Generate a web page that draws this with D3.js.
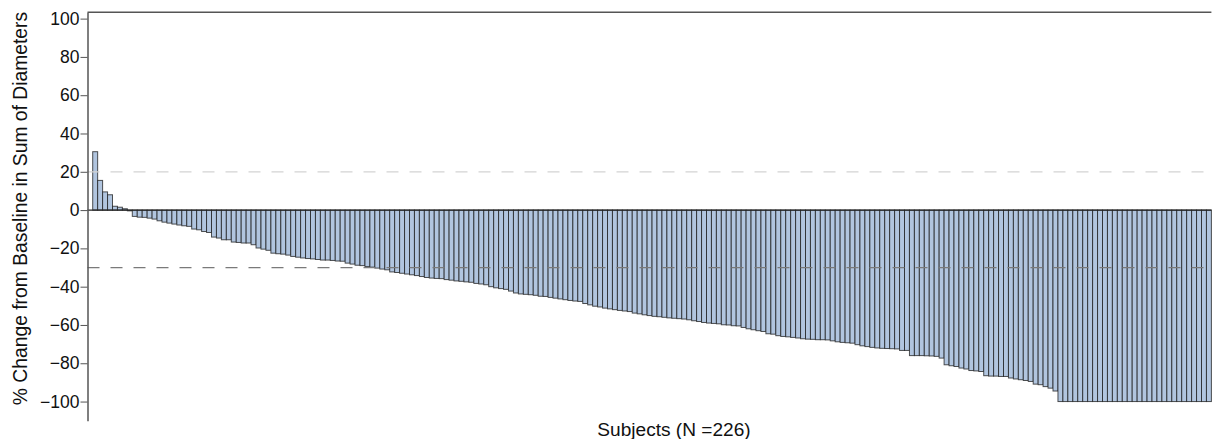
<!DOCTYPE html>
<html>
<head>
<meta charset="utf-8">
<script src="https://cdn.jsdelivr.net/npm/d3@7"></script>
<style>
  html, body { margin: 0; padding: 0; background: #fff; }
  svg { display: block; }
  text { font-family: "Liberation Sans", Arial, sans-serif; fill: #111; }
</style>
</head>
<body>
<svg id="chart" width="1212" height="439"></svg>
<script>
// % change from baseline, sorted (226 subjects)
const values = [
  30.5, 15.5, 9.5, 8, 2, 1.5, 0.7, -0.4, -3.3, -3.7,
  -3.8, -4.2, -4.7, -5.6, -6.3, -6.8, -7.3, -7.8, -8.2, -8.5,
  -9.9, -10.3, -11.2, -11.7, -14.1, -14.6, -15.5, -15.5, -16.7, -16.9,
  -17.2, -17.2, -18.1, -19.8, -20.4, -21, -22.5, -22.8, -23, -23.5,
  -24.2, -24.6, -25, -25.3, -25.5, -25.8, -26.1, -26.1, -26.3, -26.6,
  -26.7, -27.7, -28.2, -28.8, -29, -29.5, -29.8, -30.3, -30.8, -31.2,
  -32.3, -32.6, -33, -33.4, -33.8, -34.2, -34.7, -35.2, -35.5, -35.7,
  -35.8, -36.3, -36.6, -37, -37.2, -37.5, -37.7, -38.3, -38.6, -39,
  -40, -40.6, -41, -41.4, -42.3, -43.3, -43.8, -44, -44.2, -44.5,
  -45, -45.1, -45.6, -46, -46.4, -46.8, -47.2, -47.5, -47.7, -48.8,
  -49.5, -50.2, -50.6, -51.2, -51.6, -52, -52.4, -52.7, -53, -53.8,
  -54.2, -54.7, -55.1, -55.5, -55.7, -56, -56.3, -56.5, -56.7, -56.9,
  -57.3, -57.8, -58.2, -58.7, -59, -59.2, -59.4, -59.9, -60, -60.4,
  -60.5, -61.3, -62, -62.5, -63, -63.4, -64.6, -64.8, -65.6, -66,
  -66.2, -66.5, -66.8, -67.2, -67.4, -67.5, -67.7, -67.7, -67.8, -68.3,
  -68.8, -69.1, -69.3, -69.5, -70.3, -70.9, -71.3, -71.7, -72, -72.2,
  -72.3, -72.4, -72.5, -73.3, -73.3, -76, -76, -76, -76.1, -76.2,
  -76.4, -77.3, -80.8, -81.3, -81.7, -82.5, -83, -83.8, -84, -84.3,
  -86.5, -86.7, -86.7, -86.9, -86.9, -87.7, -88.2, -88.6, -89, -89.5,
  -90.9, -91.2, -92.2, -93, -94.5, -100, -100, -100, -100, -100,
  -100, -100, -100, -100, -100, -100, -100, -100, -100, -100,
  -100, -100, -100, -100, -100, -100, -100, -100, -100, -100,
  -100, -100, -100, -100, -100, -100
];
const subjects = values.map((d, i) => i);
const yTicks = [-100, -80, -60, -40, -20, 0, 20, 40, 60, 80, 100];
const yDomain = [-110, 103.3];
const refLines = [20, -30];
const yTitle = "% Change from Baseline in Sum of Diameters";
const xTitle = "Subjects (N =226)";

const svg = d3.select("#chart");
const axisX = 87.5, plotRight = 1211.4, plotTop = 12.3, plotBottom = 420.7;

const x = d3.scaleBand().domain(subjects).range([92.7, plotRight]).padding(0);
const y = d3.scaleLinear().domain(yDomain).range([plotBottom, plotTop]);

// bars
svg.append("g").selectAll("rect").data(values).join("rect")
  .attr("x", (d, i) => x(i))
  .attr("width", x.bandwidth())
  .attr("y", d => y(Math.max(0, d)))
  .attr("height", d => Math.abs(y(d) - y(0)))
  .attr("fill", "#b1c5df")
  .attr("stroke", "#1a1a1a")
  .attr("stroke-opacity", 0.75)
  .attr("stroke-width", 1);

// reference lines
svg.append("g").selectAll("line").data(refLines).join("line")
  .attr("x1", axisX).attr("x2", plotRight)
  .attr("y1", d => y(d)).attr("y2", d => y(d))
  .attr("stroke", d => d > 0 ? "#d4d4d4" : "#7a7a7a")
  .attr("stroke-width", 1.3)
  .attr("stroke-dasharray", "12,11");

// zero line
svg.append("line")
  .attr("x1", axisX).attr("x2", plotRight)
  .attr("y1", y(0)).attr("y2", y(0))
  .attr("stroke", "#222").attr("stroke-width", 1.3);

// top border
svg.append("line")
  .attr("x1", axisX).attr("x2", plotRight)
  .attr("y1", plotTop).attr("y2", plotTop)
  .attr("stroke", "#555").attr("stroke-width", 1.4);

// y axis
const yAxis = d3.axisLeft(y).tickValues(yTicks).tickSize(7).tickPadding(1).tickSizeOuter(0);
const ga = svg.append("g").attr("transform", `translate(${axisX},0)`).call(yAxis);
ga.select(".domain").attr("stroke", "#555").attr("stroke-width", 1.5);
ga.selectAll(".tick line").attr("stroke", "#555").attr("stroke-width", 1);
ga.selectAll(".tick text")
  .attr("font-family", "'Liberation Sans', Arial, sans-serif")
  .attr("font-size", 17.5).attr("fill", "#111");

// titles
svg.append("text")
  .attr("transform", `translate(27,208.5) rotate(-90)`)
  .attr("text-anchor", "middle")
  .attr("font-size", 19.3)
  .text(yTitle);

svg.append("text")
  .attr("x", 674).attr("y", 436)
  .attr("text-anchor", "middle")
  .attr("font-size", 19.1)
  .text(xTitle);
</script>
</body>
</html>
